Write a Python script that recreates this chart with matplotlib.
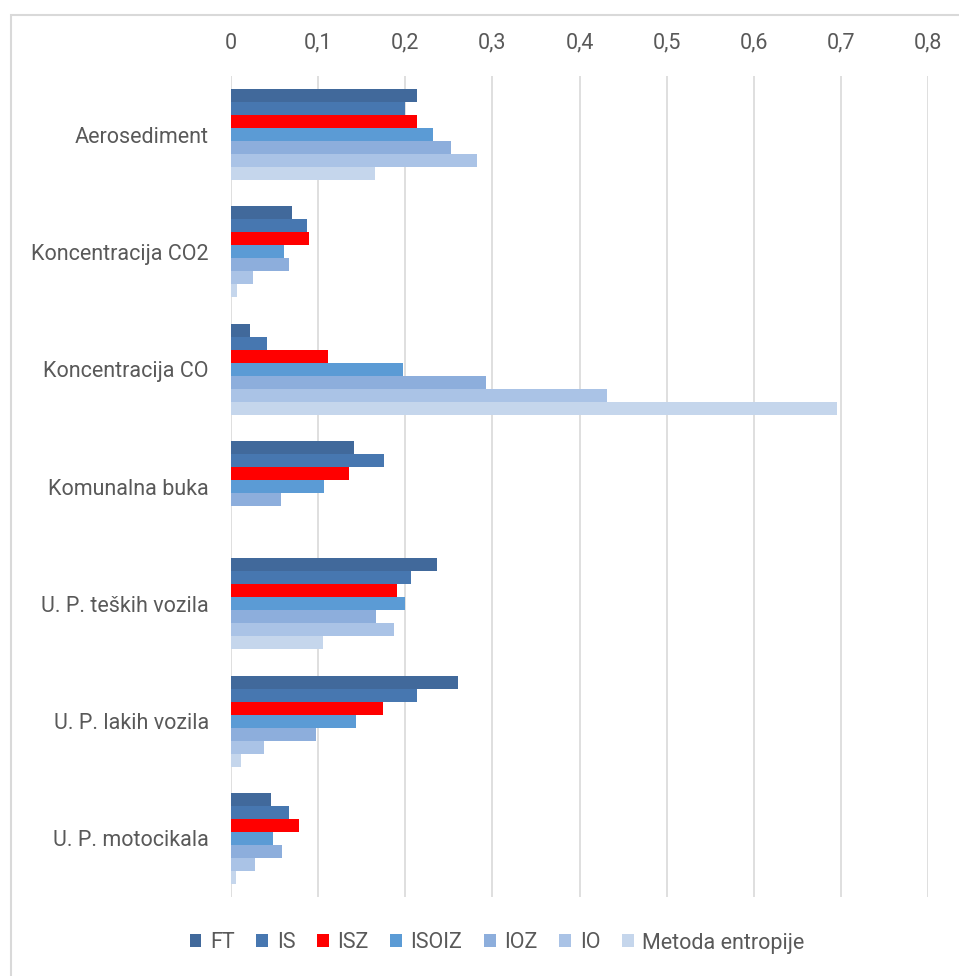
import matplotlib.pyplot as plt
import numpy as np
from matplotlib.patches import Rectangle
from matplotlib.ticker import FuncFormatter

categories = ["Aerosediment", "Koncentracija CO2", "Koncentracija CO", "Komunalna buka",
              "U. P. teških vozila", "U. P. lakih vozila", "U. P. motocikala"]
series = ["FT", "IS", "ISZ", "ISOIZ", "IOZ", "IO", "Metoda entropije"]

ft    = [0.213, 0.070, 0.022, 0.141, 0.237, 0.261, 0.046]
is_   = [0.200, 0.087, 0.041, 0.176, 0.207, 0.213, 0.067]
isz   = [0.213, 0.090, 0.111, 0.135, 0.190, 0.175, 0.078]
isoiz = [0.232, 0.061, 0.197, 0.107, 0.200, 0.144, 0.048]
ioz   = [0.253, 0.066, 0.293, 0.057, 0.166, 0.098, 0.058]
io    = [0.282, 0.025, 0.431, 0.0, 0.187, 0.038, 0.027]
ent   = [0.165, 0.007, 0.695, 0.0, 0.106, 0.011, 0.006]
values = [ft, is_, isz, isoiz, ioz, io, ent]

colors = ['#41699b', '#4777b0', '#ff0000', '#5b9bd5', '#8daedc', '#aac3e6', '#c5d6ec']

plt.rcParams['font.family'] = ['Roboto', 'DejaVu Sans']

fig = plt.figure(figsize=(9.59, 9.76), dpi=100)
ax = fig.add_axes([231/959, 1 - 897/976, (928-231)/959, (897-76)/976])

n = len(series)
bh = 0.111
y = np.arange(len(categories))
for k in range(n):
    ax.barh(y - (n-1)/2*bh + k*bh, values[k], height=bh, color=colors[k], label=series[k])

ax.set_xlim(0, 0.8)
ax.set_ylim(len(categories) - 0.5, -0.5)
ax.set_xticks(np.arange(0, 0.81, 0.1))
ax.xaxis.set_major_formatter(FuncFormatter(lambda v, p: ('%g' % round(v, 1)).replace('.', ',')))
ax.xaxis.tick_top()
ax.set_yticks(y)
ax.set_yticklabels(categories)
ax.tick_params(axis='both', length=0, labelsize=15.5, colors='#595959')
ax.tick_params(axis='x', pad=16)
ax.tick_params(axis='y', pad=16)
ax.grid(axis='x', color='#d9d9d9', linewidth=1.2)
ax.set_axisbelow(True)
for s in ax.spines.values():
    s.set_visible(False)

handles, labels = ax.get_legend_handles_labels()
fig.legend(handles, labels, loc='center', bbox_to_anchor=(497/959, 1 - 943/976), ncol=7,
           frameon=False, fontsize=15.5, handlelength=0.55, handleheight=0.55,
           handletextpad=0.4, columnspacing=1.0, labelcolor='#595959')

fig.patches.append(Rectangle((11/959, -0.1), 1.2, 1 - 15/976 + 0.1, transform=fig.transFigure,
                             fill=False, edgecolor='#d9d9d9', linewidth=1.5))

fig.savefig('out.png', dpi=100)
